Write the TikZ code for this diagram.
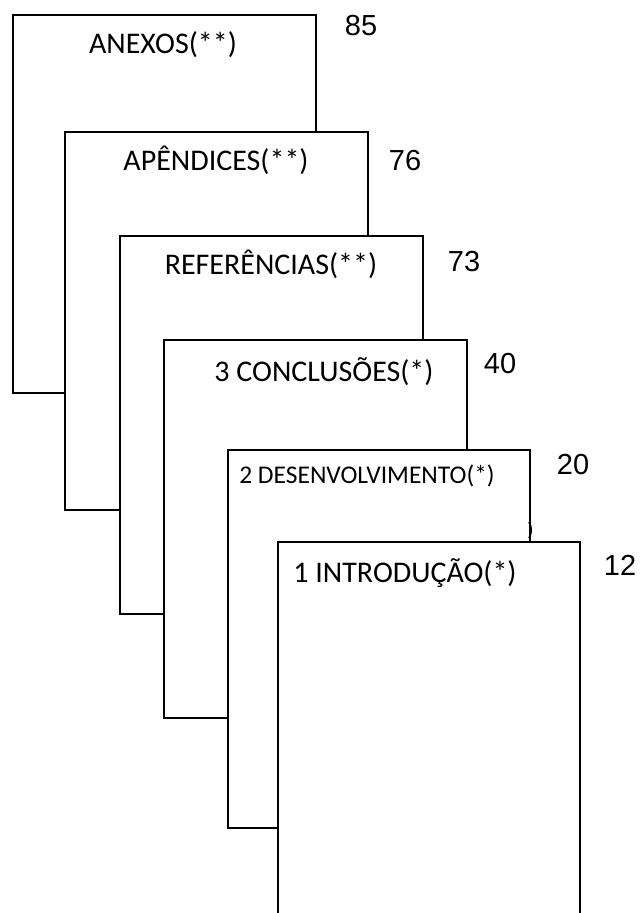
\documentclass[tikz,border=0pt]{standalone}
\usepackage{fontspec}
\setmainfont{Carlito}
\newfontfamily\numfont{Liberation Sans}
\begin{document}
\begin{tikzpicture}[x=1pt,y=-1pt,
  pagebox/.style={draw=black,fill=white,line width=1.8pt,rectangle,inner sep=0pt,
    minimum width=303pt,minimum height=378pt,anchor=north west},
  title/.style={anchor=base,inner sep=0pt,font=\fontsize{30}{32}\selectfont},
  smalltitle/.style={anchor=base,inner sep=0pt,font=\fontsize{25.5}{27}\selectfont},
  pagenum/.style={anchor=base,inner sep=0pt,font=\numfont\fontsize{29}{31}\selectfont}]
\useasboundingbox (0,0) rectangle (641,913);
\clip (0,0) rectangle (641,913);
\fill[white] (0,0) rectangle (641,913);
% pages, back to front
\node[pagebox] (anexos) at (12,14) {};
\node[title] (tanexos) at (163,53) {ANEXOS(**)};
\node[pagenum] (n85) at (361,35) {85};

\node[pagebox] (apendices) at (64,131) {};
\node[title] (tapendices) at (216,170) {APÊNDICES(**)};
\node[pagenum] (n76) at (405,170) {76};

\node[pagebox] (referencias) at (119,235) {};
\node[title] (treferencias) at (271,274) {REFERÊNCIAS(**)};
\node[pagenum] (n73) at (464,271) {73};

\node[pagebox] (conclusoes) at (163,339) {};
\node[title] (tconclusoes) at (324,381) {3 CONCLUSÕES(*)};
\node[pagenum] (n40) at (500,373) {40};

\node[pagebox, minimum width=302pt] (desenvolvimento) at (227,449) {};
\node[smalltitle] (tdesenvolvimento) at (367,483) {2 DESENVOLVIMENTO(*)};
\node[pagenum] (n20) at (573,474) {20};
\draw[line width=1.6pt] (529,522) .. controls (532,527) and (532,533) .. (529,538);

\node[pagebox, minimum width=302pt] (introducao) at (277,541) {};
\node[title] (tintroducao) at (405,582) {1 INTRODUÇÃO(*)};
\node[pagenum] (n12) at (620,575) {12};
\end{tikzpicture}
\end{document}
